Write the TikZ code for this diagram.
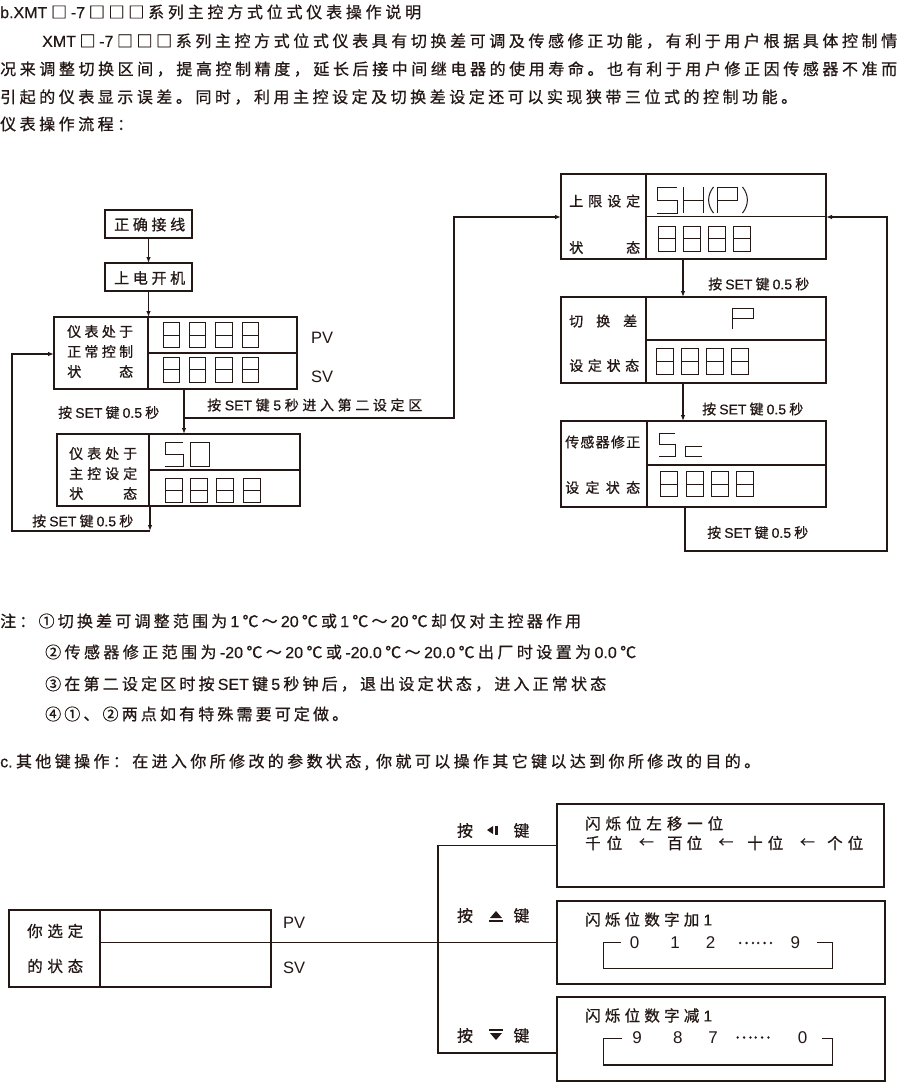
\documentclass[tikz,border=0pt]{standalone}
\usepackage{fontspec}
\setmainfont{Noto Sans CJK SC}[FakeBold=0.7]
\newfontfamily\lat{Liberation Sans}
\newfontfamily\latb{Liberation Sans}[FakeBold=0.5]
\newcommand\Lt[1]{{\latb #1}}
\usetikzlibrary{arrows.meta}
\definecolor{ink}{HTML}{231815}
\makeatletter
\def\spr@endmark{\relax}
\newcommand\spr[2]{\makebox[#1][s]{\spr@first#2\relax}}
\def\spr@first#1{#1\spr@loop}
\def\spr@loop#1{\def\spr@arg{#1}\ifx\spr@arg\spr@endmark\else\hfill#1\expandafter\spr@loop\fi}
\makeatother
\newcommand\fs[1]{\fontsize{#1}{#1}\selectfont}
% seven-segment shapes: x, y (top-left), w, h
\newcommand\segEight[4]{\draw[seg] (#1,#2) rectangle ++(#3,#4); \draw[seg] (#1,#2+#4/2) -- ++(#3,0);}
\newcommand\segFive[4]{\draw[seg] (#1+#3,#2) -- (#1,#2) -- (#1,#2+#4/2) -- (#1+#3,#2+#4/2) -- (#1+#3,#2+#4) -- (#1,#2+#4);}
\newcommand\segZero[4]{\draw[seg] (#1,#2) rectangle ++(#3,#4);}
\newcommand\segH[4]{\draw[seg] (#1,#2) -- ++(0,#4) (#1+#3,#2) -- ++(0,#4) (#1,#2+#4/2) -- ++(#3,0);}
\newcommand\segP[4]{\draw[seg] (#1,#2+#4) -- (#1,#2) -- (#1+#3,#2) -- (#1+#3,#2+#4/2) -- (#1,#2+#4/2);}
\newcommand\segC[4]{\draw[seg] (#1+#3,#2) -- (#1,#2) -- (#1,#2+#4) -- (#1+#3,#2+#4);}
\tikzset{
  lbl/.style={anchor=west, inner sep=0pt, text=ink},
  ctr/.style={anchor=center, inner sep=0pt, text=ink},
  box/.style={draw=ink, line width=1.2pt, inner sep=0pt, outer sep=0pt, rectangle},
  seg/.style={draw=ink, line width=1pt},
  conn/.style={draw=ink, line width=1.1pt},
  arr/.style={conn, -{Latex[length=6pt,width=4.5pt]}},
  hdr/.style={lbl, font=\fs{16}},
  flab/.style={lbl, font=\fs{14}},
  blab/.style={lbl, font=\fs{14}},
}
\begin{document}
\begin{tikzpicture}[x=1pt,y=-1pt]
\useasboundingbox[fill=white] (0,0) rectangle (900,1082);

% ---------- header text ----------
\node[hdr] (h1) at (0,12) {\spr{421pt}{{\Lt{b.XMT}}□{\Lt{-7}}□□□系列主控方式位式仪表操作说明}};
\node[hdr] (h2) at (42,41) {\spr{855pt}{{\Lt{XMT}}□{\Lt{-7}}□□□系列主控方式位式仪表具有切换差可调及传感修正功能，有利于用户根据具体控制情}};
\node[hdr] (h3) at (0,69) {\spr{897pt}{况来调整切换区间，提高控制精度，延长后接中间继电器的使用寿命。也有利于用户修正因传感器不准而}};
\node[hdr] (h4) at (0,97) {\spr{797pt}{引起的仪表显示误差。同时，利用主控设定及切换差设定还可以实现狭带三位式的控制功能。}};
\node[hdr] (h5) at (0,124) {\spr{133pt}{仪表操作流程：}};

% ---------- left flow ----------
\node[box, minimum width=87pt, minimum height=28pt] (wire) at (148.5,224) {};
\node[lbl, font=\fs{15}] (wiret) at (114,224.5) {\spr{71pt}{正确接线}};
\node[box, minimum width=87pt, minimum height=28pt] (power) at (148.5,277) {};
\node[lbl, font=\fs{15}] (powert) at (114,278) {\spr{71pt}{上电开机}};

% normal control box
\node[box, minimum width=243pt, minimum height=72pt] (normal) at (175.5,353) {};
\draw[conn] ([xshift=94pt]normal.north west) -- ([xshift=94pt]normal.south west);
\draw[conn] ([xshift=94pt]normal.west) -- (normal.east);
\node[blab] (n1) at (67,331.5) {\spr{66pt}{仪表处于}};
\node[blab] (n2) at (67,351.5) {\spr{66pt}{正常控制}};
\node[blab] (n3) at (67,371.5) {\spr{66pt}{状态}};
\node[lbl, font=\lat\fs{16.5}] (pv1) at (311,338) {PV};
\node[lbl, font=\lat\fs{16.5}] (sv1) at (311,376.5) {SV};
\segEight{163}{322.7}{16.6}{24.6}\segEight{189.3}{322.7}{16.6}{24.6}\segEight{215.7}{322.7}{16.6}{24.6}\segEight{242}{322.7}{16.6}{24.6}
\segEight{163}{357.3}{16.6}{24.7}\segEight{189.3}{357.3}{16.6}{24.7}\segEight{215.7}{357.3}{16.6}{24.7}\segEight{242}{357.3}{16.6}{24.7}

% master set box
\node[box, minimum width=243pt, minimum height=72pt] (master) at (178.5,470) {};
\draw[conn] ([xshift=92pt]master.north west) -- ([xshift=92pt]master.south west);
\draw[conn] ([xshift=92pt]master.west) -- (master.east);
\node[blab] (m1) at (69,453.5) {\spr{68pt}{仪表处于}};
\node[blab] (m2) at (69,473.5) {\spr{68pt}{主控设定}};
\node[blab] (m3) at (69,493.5) {\spr{68pt}{状态}};
\segFive{165}{442.3}{18.3}{24.4}\segZero{190}{442.3}{19.3}{24.4}
\segEight{165}{478.3}{17}{24}\segEight{190}{478.3}{17}{24}\segEight{216.7}{478.3}{17}{24}\segEight{243.3}{478.3}{17}{24}

% left connectors
\coordinate (j1) at (184,418);
\coordinate (j2) at (454,217);
\coordinate (k1) at (150,531);
\coordinate (k2) at (12,354);
\draw[arr] (wire.south) -- (power.north);
\draw[arr] (power.south) -- (normal.north -| power.south);
\draw[arr] (normal.south -| j1) -- (master.north -| j1);
\draw[arr] (j1) -| (j2) -- (j2 -| 561,0);
\draw[arr] (master.south -| k1) -- (k1);
\draw[arr] (k1) -| (k2) -- (normal.west |- k2);
\node[flab] (l1) at (58,412.5) {\spr{101pt}{按{\Lt{SET}}键{\Lt{0.5}}秒}};
\node[flab] (l2) at (207,405) {\spr{215pt}{按{\Lt{SET}}键{\Lt{5}}秒进入第二设定区}};
\node[flab] (l3) at (32,521) {\spr{101pt}{按{\Lt{SET}}键{\Lt{0.5}}秒}};

% ---------- right flow ----------
\node[box, minimum width=265pt, minimum height=85pt] (shbox) at (693.5,216.5) {};
\draw[conn] ([xshift=85pt]shbox.north west) -- ([xshift=85pt]shbox.south west);
\draw[conn] ([xshift=85pt]shbox.west) -- (shbox.east);
\node[blab] (s1) at (569,201) {\spr{71pt}{上限设定}};
\node[blab] (s2) at (569,247.5) {\spr{71pt}{状态}};
\segFive{657}{187}{20}{26}\segH{683}{187}{20}{26}\segP{717}{187}{20}{26}
\draw[seg] (713.5,187) .. controls (707,195) and (707,205) .. (713.5,213);
\draw[seg] (742.5,187) .. controls (749,195) and (749,205) .. (742.5,213);
\segEight{658.3}{226}{16.7}{25.7}\segEight{683.3}{226}{16.7}{25.7}\segEight{708.3}{226}{16.7}{25.7}\segEight{733.3}{226}{16.7}{25.7}

\node[box, minimum width=265pt, minimum height=86pt] (swdiff) at (693.5,340) {};
\draw[conn] ([xshift=85pt]swdiff.north west) -- ([xshift=85pt]swdiff.south west);
\draw[conn] ([xshift=85pt]swdiff.west) -- (swdiff.east);
\node[blab] (d1) at (569,321) {\spr{68pt}{切换差}};
\node[blab] (d2) at (569,365.5) {\spr{70pt}{设定状态}};
\segP{732.7}{308.3}{20.6}{21}
\segEight{656.7}{348}{16.7}{26}\segEight{681.7}{348}{16.7}{26}\segEight{706.7}{348}{16.7}{26}\segEight{731.7}{348}{16.7}{26}

\node[box, minimum width=265pt, minimum height=86pt] (sensor) at (693.5,464) {};
\draw[conn] ([xshift=86pt]sensor.north west) -- ([xshift=86pt]sensor.south west);
\draw[conn] ([xshift=86pt]sensor.west |- 0,465) -- (sensor.east |- 0,465);
\node[blab] (c1) at (565,442) {\spr{75pt}{传感器修正}};
\node[blab] (c2) at (565,487.5) {\spr{75pt}{设定状态}};
\segFive{659.3}{433.3}{15.7}{22.7}\segC{685}{446.7}{17.3}{9.3}
\segEight{660.7}{471.7}{16.7}{25}\segEight{686.7}{471.7}{16.7}{25}\segEight{711.7}{471.7}{16.7}{25}\segEight{736.7}{471.7}{16.7}{25}

\coordinate (rx) at (683,0);
\coordinate (f1) at (685,551);
\coordinate (f2) at (887,217);
\draw[arr] (shbox.south -| rx) -- (swdiff.north -| rx);
\draw[arr] (swdiff.south -| rx) -- (sensor.north -| rx);
\draw[arr] (sensor.south -| f1) -- (f1) -| (f2) -- (shbox.east |- f2);
\node[flab] (r1) at (708,284) {\spr{101pt}{按{\Lt{SET}}键{\Lt{0.5}}秒}};
\node[flab] (r2) at (702,409) {\spr{101pt}{按{\Lt{SET}}键{\Lt{0.5}}秒}};
\node[flab] (r3) at (707,532.5) {\spr{101pt}{按{\Lt{SET}}键{\Lt{0.5}}秒}};

% ---------- notes ----------
\node[hdr] (nt1) at (0,621) {\spr{581pt}{注：①切换差可调整范围为{\Lt{1}}℃～{\Lt{20}}℃或{\Lt{1}}℃～{\Lt{20}}℃却仅对主控器作用}};
\node[hdr] (nt2) at (45,652) {\spr{591pt}{②传感器修正范围为{\Lt{-20}}℃～{\Lt{20}}℃或{\Lt{-20.0}}℃～{\Lt{20.0}}℃出厂时设置为{\Lt{0.0}}℃}};
\node[hdr] (nt3) at (45,684) {\spr{561pt}{③在第二设定区时按{\Lt{SET}}键{\Lt{5}}秒钟后，退出设定状态，进入正常状态}};
\node[hdr] (nt4) at (45,714) {\spr{303pt}{④①、②两点如有特殊需要可定做。}};
\node[hdr] (cl) at (0,762) {\spr{760pt}{{\Lt{c.}}其他键操作：在进入你所修改的参数状态{,\ }你就可以操作其它键以达到你所修改的目的。}};

% ---------- key operation diagram ----------
\node[box, minimum width=262pt, minimum height=77pt] (state) at (140,948.5) {};
\draw[conn] ([xshift=91pt]state.north west) -- ([xshift=91pt]state.south west);
\coordinate (sm) at (100,942.5);
\node[lbl, font=\fs{15.5}] (st1) at (27,931) {\spr{56pt}{你选定}};
\node[lbl, font=\fs{15.5}] (st2) at (27,966) {\spr{56pt}{的状态}};
\node[lbl, font=\lat\fs{16.5}] (pv2) at (283,922.5) {PV};
\node[lbl, font=\lat\fs{16.5}] (sv2) at (283,967.5) {SV};

\node[box, minimum width=327pt, minimum height=83pt] (kb1) at (720.5,845.5) {};
\node[box, minimum width=328pt, minimum height=83pt] (kb2) at (721,942.5) {};
\node[box, minimum width=328pt, minimum height=84pt] (kb3) at (721,1039) {};

\coordinate (tt) at (438,845.5);
\coordinate (tb) at (438,1053);
\draw[conn] (sm) -- (kb2.west);
\draw[conn] (kb1.west) -- (tt) -- (tb) -- (kb3.west |- tb);

% key labels
\node[ctr, font=\fs{16}] (k1a) at (465,830.5) {按};
\node[ctr, font=\fs{16}] (k1b) at (521.5,830.5) {键};
\fill[ink] (493,826) -- (487,830) -- (493,834) -- cycle;
\fill[ink] (495,825.5) rectangle (497.5,834.5);
\node[ctr, font=\fs{16}] (k2a) at (465,915.5) {按};
\node[ctr, font=\fs{16}] (k2b) at (521.5,915.5) {键};
\fill[ink] (490,918) -- (496,911) -- (502,918) -- cycle;
\draw[ink, line width=1.5pt] (489,921) -- (503,921);
\node[ctr, font=\fs{16}] (k3a) at (465,1035.5) {按};
\node[ctr, font=\fs{16}] (k3b) at (521.5,1035.5) {键};
\draw[ink, line width=1.5pt] (489,1030) -- (503,1030);
\fill[ink] (490,1033) -- (502,1033) -- (496,1040) -- cycle;

% box 1 content
\node[lbl, font=\fs{15.5}] (b1t) at (585,823.5) {\spr{138pt}{闪烁位左移一位}};
\node[lbl, font=\fs{15.5}] (w1) at (585,843) {\spr{37pt}{千位}};
\node[ctr, font=\fs{15}] (a1) at (646.5,843) {←};
\node[lbl, font=\fs{15.5}] (w2) at (667,843) {\spr{35pt}{百位}};
\node[ctr, font=\fs{15}] (a2) at (726,843) {←};
\node[lbl, font=\fs{15.5}] (w3) at (747,843) {\spr{36pt}{十位}};
\node[ctr, font=\fs{15}] (a3) at (807.5,843) {←};
\node[lbl, font=\fs{15.5}] (w4) at (827,843) {\spr{36pt}{个位}};

% box 2 content
\node[lbl, font=\fs{15.5}] (b2t) at (585,919.5) {\spr{127pt}{闪烁位数字加{\Lt{1}}}};
\node[ctr, font=\lat\fs{17}] (u0) at (634.7,943) {0};
\node[ctr, font=\lat\fs{17}] (u1) at (675,943) {1};
\node[ctr, font=\lat\fs{17}] (u2) at (710.5,943) {2};
\node[ctr, font=\fs{17}] (ud) at (755.3,943) {……};
\node[ctr, font=\lat\fs{17}] (u9) at (795.3,943) {9};
\draw[conn] (620.7,942.3) -- (603.3,942.3) -- (603.3,968.3) -- (832.7,968.3) -- (832.7,942.3) -- (816.7,942.3);

% box 3 content
\node[lbl, font=\fs{15.5}] (b3t) at (585,1015.5) {\spr{127pt}{闪烁位数字减{\Lt{1}}}};
\node[ctr, font=\lat\fs{17}] (v9) at (637.2,1037.5) {9};
\node[ctr, font=\lat\fs{17}] (v8) at (677.8,1037.5) {8};
\node[ctr, font=\lat\fs{17}] (v7) at (713,1037.5) {7};
\node[ctr, font=\fs{17}] (vd) at (752.8,1037.5) {……};
\node[ctr, font=\lat\fs{17}] (v0) at (802.7,1037.5) {0};
\draw[conn] (621.7,1038.3) -- (603.3,1038.3) -- (603.3,1065) -- (832.7,1065) -- (832.7,1038.3) -- (821.7,1038.3);
\end{tikzpicture}
\end{document}
